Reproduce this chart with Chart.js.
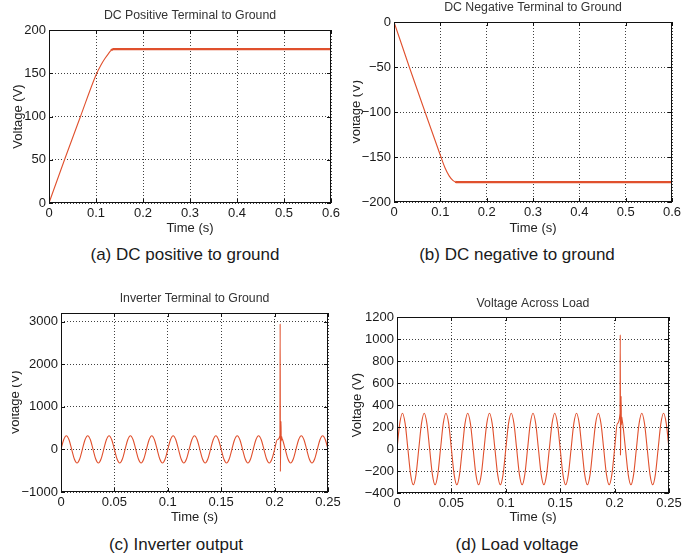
<!DOCTYPE html>
<html>
<head>
<meta charset="utf-8">
<script src="https://cdn.jsdelivr.net/npm/chart.js"></script>
<style>
  html, body { margin: 0; padding: 0; background: #fff; }
  body { position: relative; width: 694px; height: 556px; overflow: hidden; font-family: "Liberation Sans", Arial, sans-serif; }
  canvas { position: absolute; }
  .cap { position: absolute; width: 300px; text-align: center; font-size: 17px; line-height: 20px; color: #1a1a1a; }
</style>
</head>
<body>
<canvas id="chartA" width="346" height="240" style="left:0;top:0"></canvas>
<canvas id="chartB" width="341" height="240" style="left:353px;top:0"></canvas>
<canvas id="chartC" width="334" height="248" style="left:12px;top:280px"></canvas>
<canvas id="chartD" width="347" height="248" style="left:347px;top:280px"></canvas>

<div class="cap" style="left:35px;top:245px">(a) DC positive to ground</div>
<div class="cap" style="left:367px;top:245px">(b) DC negative to ground</div>
<div class="cap" style="left:26px;top:535px">(c) Inverter output</div>
<div class="cap" style="left:367px;top:535px">(d) Load voltage</div>

<script>
// DC link voltages (s, V)
const dcTime    = [0, 0.033, 0.067, 0.1, 0.11, 0.119, 0.127, 0.132, 0.137, 0.6];
const dcPosVolt = [0, 50, 100, 148, 159, 167, 173, 176.5, 178, 178];
const dcNegVolt = [0, -50, -100, -148, -162, -171, -176, -177.5, -178, -178];

// AC waveforms (s, V), fault transient near 0.205 s
const acTime = [
  0, 0.0025, 0.005, 0.0075, 0.01, 0.0125, 0.015, 0.0175,
  0.02, 0.0225, 0.025, 0.0275, 0.03, 0.0325, 0.035, 0.0375,
  0.04, 0.0425, 0.045, 0.0475, 0.05, 0.0525, 0.055, 0.0575,
  0.06, 0.0625, 0.065, 0.0675, 0.07, 0.0725, 0.075, 0.0775,
  0.08, 0.0825, 0.085, 0.0875, 0.09, 0.0925, 0.095, 0.0975,
  0.1, 0.1025, 0.105, 0.1075, 0.11, 0.1125, 0.115, 0.1175,
  0.12, 0.1225, 0.125, 0.1275, 0.13, 0.1325, 0.135, 0.1375,
  0.14, 0.1425, 0.145, 0.1475, 0.15, 0.1525, 0.155, 0.1575,
  0.16, 0.1625, 0.165, 0.1675, 0.17, 0.1725, 0.175, 0.1775,
  0.18, 0.1825, 0.185, 0.1875, 0.19, 0.1925, 0.195, 0.1975,
  0.2, 0.2025, 0.205, 0.2052, 0.2054, 0.2057, 0.206, 0.2062, 0.2066, 0.207,
  0.2075, 0.21, 0.2125, 0.215, 0.2175,
  0.22, 0.2225, 0.225, 0.2275, 0.23, 0.2325, 0.235, 0.2375,
  0.24, 0.2425, 0.245, 0.2475, 0.25
];
const invVolt = [
  0, 225, 320, 225, 0, -225, -320, -225,
  0, 225, 320, 225, 0, -225, -320, -225,
  0, 225, 320, 225, 0, -225, -320, -225,
  0, 225, 320, 225, 0, -225, -320, -225,
  0, 225, 320, 225, 0, -225, -320, -225,
  0, 225, 320, 225, 0, -225, -320, -225,
  0, 225, 320, 225, 0, -225, -320, -225,
  0, 225, 320, 225, 0, -225, -320, -225,
  0, 225, 320, 225, 0, -225, -320, -225,
  0, 225, 320, 225, 0, -225, -320, -225,
  0, 225, 320, 2950, -520, 250, 660, 200, 300, 250,
  225, 0, -225, -320, -225,
  0, 225, 320, 225, 0, -225, -320, -225,
  0, 225, 320, 225, 0
];
const loadVolt = [
  0, 230, 325, 230, 0, -230, -325, -230,
  0, 230, 325, 230, 0, -230, -325, -230,
  0, 230, 325, 230, 0, -230, -325, -230,
  0, 230, 325, 230, 0, -230, -325, -230,
  0, 230, 325, 230, 0, -230, -325, -230,
  0, 230, 325, 230, 0, -230, -325, -230,
  0, 230, 325, 230, 0, -230, -325, -230,
  0, 230, 325, 230, 0, -230, -325, -230,
  0, 230, 325, 230, 0, -230, -325, -230,
  0, 230, 325, 230, 0, -230, -325, -230,
  0, 230, 325, 1040, -55, 300, 480, 220, 290, 260,
  230, 0, -230, -325, -230,
  0, 230, 325, 230, 0, -230, -325, -230,
  0, 230, 325, 230, 0
];

// tick values
const dcXTicks  = [0, 0.1, 0.2, 0.3, 0.4, 0.5, 0.6];
const acXTicks  = [0, 0.05, 0.1, 0.15, 0.2, 0.25];
const posYTicks = [0, 50, 100, 150, 200];
const negYTicks = [-200, -150, -100, -50, 0];
const invYTicks = [-1000, 0, 1000, 2000, 3000];
const loadYTicks = [-400, -200, 0, 200, 400, 600, 800, 1000, 1200];

const lineColor = '#e0502d';
Chart.defaults.font.family = '"Liberation Sans", Arial, Helvetica, sans-serif';

const fmt = v => String(Math.round(v * 1000) / 1000).replace('-', '\u2212');

// MATLAB style box with inward tick marks
const framePlugin = {
  id: 'frame',
  afterDatasetsDraw(chart) {
    const { ctx, chartArea: a, scales: { x, y } } = chart;
    ctx.save();
    ctx.strokeStyle = '#111';
    ctx.lineWidth = 1;
    ctx.strokeRect(Math.round(a.left) + 0.5, Math.round(a.top) + 0.5,
      Math.round(a.right) - Math.round(a.left) - 1, Math.round(a.bottom) - Math.round(a.top) - 1);
    ctx.beginPath();
    x.ticks.forEach(t => {
      const px = Math.round(x.getPixelForValue(t.value)) + 0.5;
      ctx.moveTo(px, a.bottom); ctx.lineTo(px, a.bottom - 4);
      ctx.moveTo(px, a.top); ctx.lineTo(px, a.top + 4);
    });
    y.ticks.forEach(t => {
      const py = Math.round(y.getPixelForValue(t.value)) + 0.5;
      ctx.moveTo(a.left, py); ctx.lineTo(a.left + 4, py);
      ctx.moveTo(a.right, py); ctx.lineTo(a.right - 4, py);
    });
    ctx.stroke();
    ctx.restore();
  }
};

function makeChart(id, c) {
  const ctx = document.getElementById(id).getContext('2d');
  const axisFont = { size: 13, lineHeight: 1.2 };
  const grid = { color: 'rgba(0,0,0,0.75)', lineWidth: 1, drawTicks: false };
  const border = { display: false, dash: [1, 2] };
  return new Chart(ctx, {
    type: 'line',
    data: {
      datasets: [{
        data: c.times.map((t, i) => ({ x: t, y: c.values[i] })),
        borderColor: lineColor,
        borderWidth: 1.1,
        pointRadius: 0,
        fill: false,
        cubicInterpolationMode: 'monotone',
        segment: c.segment || {}
      }]
    },
    options: {
      responsive: false,
      animation: false,
      layout: { padding: c.pad },
      plugins: {
        legend: { display: false },
        tooltip: { enabled: false },
        title: {
          display: true, text: c.title, color: '#333', fullSize: false,
          font: { size: 12.3, weight: 'normal', lineHeight: 1.2 },
          padding: c.titlePad
        }
      },
      scales: {
        x: {
          type: 'linear', min: c.xMin, max: c.xMax,
          afterBuildTicks: s => { s.ticks = c.xTicks.map(v => ({ value: v })); },
          afterFit: s => { s.height = c.xh; },
          ticks: { padding: 3, color: '#1a1a1a', font: { size: 13 }, maxRotation: 0, autoSkip: false, callback: fmt },
          grid, border,
          title: { display: true, text: 'Time (s)', color: '#222', font: axisFont, padding: 0 }
        },
        y: {
          type: 'linear', min: c.yMin, max: c.yMax,
          afterBuildTicks: s => { s.ticks = c.yTicks.map(v => ({ value: v })); },
          afterFit: s => { s.width = c.yw; },
          ticks: { padding: 3, color: '#1a1a1a', font: { size: 13 }, autoSkip: false, callback: fmt },
          grid, border,
          title: { display: true, text: 'Voltage (V)', color: '#222', font: axisFont, padding: { top: c.ytp, bottom: 0 } }
        }
      }
    },
    plugins: [framePlugin]
  });
}

const thickPlateau = { borderWidth: s => (s.p0.parsed.x >= 0.132 ? 2.2 : 1.1) };

makeChart('chartA', {
  title: 'DC Positive Terminal to Ground',
  times: dcTime, values: dcPosVolt, segment: thickPlateau,
  xMin: 0, xMax: 0.6, xTicks: dcXTicks,
  yMin: 0, yMax: 200, yTicks: posYTicks,
  pad: { left: 0, right: 15, top: 0, bottom: 4.2 },
  titlePad: { top: 8.6, bottom: 6.64 },
  xh: 32.8, yw: 49, ytp: 10.2
});

makeChart('chartB', {
  title: 'DC Negative Terminal to Ground',
  times: dcTime, values: dcNegVolt, segment: thickPlateau,
  xMin: 0, xMax: 0.6, xTicks: dcXTicks,
  yMin: -200, yMax: 0, yTicks: negYTicks,
  pad: { left: 0, right: 22, top: 0, bottom: 4.2 },
  titlePad: { top: 0.2, bottom: 7.04 },
  xh: 33.8, yw: 41, ytp: -4.3
});

makeChart('chartC', {
  title: 'Inverter Terminal to Ground',
  times: acTime, values: invVolt,
  xMin: 0, xMax: 0.25, xTicks: acXTicks,
  yMin: -1000, yMax: 3200, yTicks: invYTicks,
  pad: { left: 0, right: 18, top: 0, bottom: 3.2 },
  titlePad: { top: 11.6, bottom: 6.64 },
  xh: 32.8, yw: 49, ytp: -4.3
});

makeChart('chartD', {
  title: 'Voltage Across Load',
  times: acTime, values: loadVolt,
  xMin: 0, xMax: 0.25, xTicks: acXTicks,
  yMin: -400, yMax: 1200, yTicks: loadYTicks,
  pad: { left: 0, right: 25, top: 0, bottom: 3.2 },
  titlePad: { top: 16.6, bottom: 5.64 },
  xh: 31.8, yw: 50, ytp: 2.2
});
</script>
</body>
</html>
